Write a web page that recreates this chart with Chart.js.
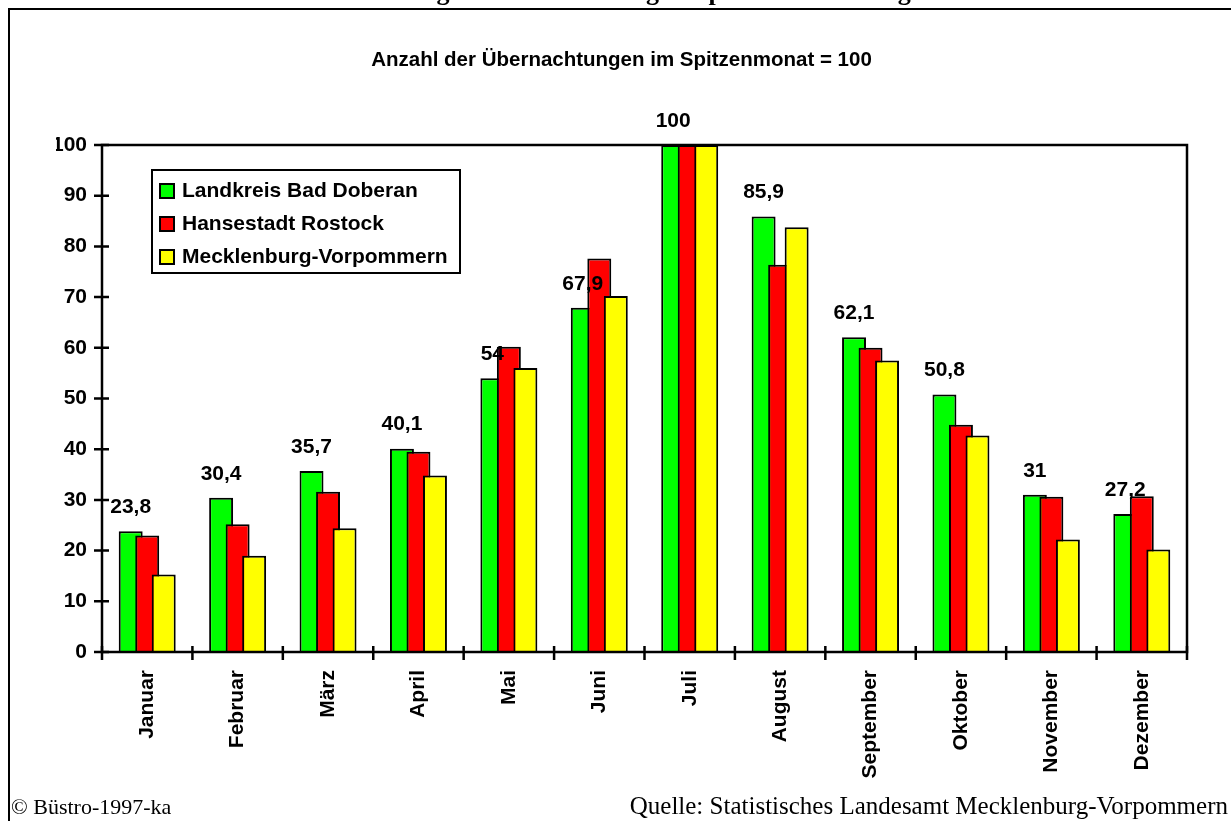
<!DOCTYPE html>
<html>
<head>
<meta charset="utf-8">
<script src="https://cdn.jsdelivr.net/npm/chart.js@4.4.1/dist/chart.umd.min.js"></script>
<style>
    html, body { margin: 0; padding: 0; background: #fff; overflow: hidden; }
    #wrap { position: relative; width: 1231px; height: 821px; overflow: hidden; }
    #chart { position: absolute; left: 0; top: 0; }
    #frame { position: absolute; left: 8px; top: 8px; width: 1400px; height: 1000px;
             border-left: 2px solid #000; border-top: 2px solid #000; pointer-events: none; }
    #head { position: absolute; left: 0; width: 1231px; top: -23px; text-align: center;
            font: bold 26px 'Liberation Serif', 'Times New Roman', serif; white-space: nowrap; }
    .foot { position: absolute; top: 792px; font-family: 'Liberation Serif', 'Times New Roman', serif; white-space: nowrap; }
    #footLeft { left: 11px; font-size: 22px; top: 794px; }
    #footRight { right: 3px; font-size: 25px; }
</style>
</head>
<body>
<div id="wrap">
    <canvas id="chart" width="1231" height="821"></canvas>
    <div id="head">Saisonverlauf der Übernachtungen in Mecklenburg-Vorpommern im Vergleich des Jahres 1996</div>
    <div id="frame"></div>
    <div class="foot" id="footLeft">© Büstro-1997-ka</div>
    <div class="foot" id="footRight">Quelle: Statistisches Landesamt Mecklenburg-Vorpommern</div>
</div>
<script>
// ---- data (Spitzenmonat = 100) ----
const months = ['Januar', 'Februar', 'März', 'April', 'Mai', 'Juni',
                'Juli', 'August', 'September', 'Oktober', 'November', 'Dezember'];
const badDoberan = [23.8, 30.4, 35.7, 40.1, 54, 67.9, 100, 85.9, 62.1, 50.8, 31, 27.2];
const rostock    = [23.0, 25.2, 31.6, 39.5, 60.2, 77.6, 100, 76.4, 60.0, 44.8, 30.6, 30.7];
const mvp        = [15.3, 19.0, 24.4, 34.8, 56.0, 70.2, 100, 83.8, 57.5, 42.7, 22.2, 20.2];
const yTicks     = [0, 10, 20, 30, 40, 50, 60, 70, 80, 90, 100];

const FONT = "'Liberation Sans', Arial, sans-serif";
const FS = 21;

// values of the first series above its bars
function drawGreenLabels(chart) {
    const { ctx } = chart;
    const meta = chart.getDatasetMeta(0);
    const values = chart.data.datasets[0].data;
    ctx.save();
    ctx.fillStyle = '#000';
    ctx.font = 'bold ' + FS + 'px ' + FONT;
    ctx.textAlign = 'center';
    ctx.textBaseline = 'middle';
    meta.data.forEach((bar, i) => {
        ctx.fillText(String(values[i]).replace('.', ','), bar.x, bar.y - 24);
    });
    ctx.restore();
}

// draw series left to right so the later bars overlap the earlier ones
const forwardDraw = {
    id: 'forwardDraw',
    beforeDatasetsDraw(chart) {
        chart.data.datasets.forEach((ds, i) => {
            chart.getDatasetMeta(i).controller.draw();
        });
        return false;
    }
};

// frame around plot area + crossing tick marks, then value labels
const frameTicks = {
    id: 'frameTicks',
    afterDraw(chart) {
        const { ctx, chartArea: a, scales: { x, y } } = chart;
        ctx.save();
        ctx.strokeStyle = '#000';
        ctx.lineWidth = 2.5;
        ctx.strokeRect(a.left, a.top, a.right - a.left, a.bottom - a.top);
        ctx.beginPath();
        y.ticks.forEach(t => {
            const py = y.getPixelForValue(t.value);
            ctx.moveTo(a.left - 8, py);
            ctx.lineTo(a.left + 7, py);
        });
        for (let i = 0; i <= months.length; i++) {
            const px = x.getPixelForValue(i - 0.5);
            ctx.moveTo(px, a.bottom - 6);
            ctx.lineTo(px, a.bottom + 8);
        }
        ctx.stroke();
        ctx.restore();
        drawGreenLabels(chart);
    }
};

// boxed legend inside the plot area
const boxLegend = {
    id: 'boxLegend',
    afterDraw(chart) {
        const { ctx, chartArea: a } = chart;
        const left = a.left + 50, top = a.top + 25, w = 308, h = 103;
        ctx.save();
        ctx.fillStyle = '#fff';
        ctx.fillRect(left, top, w, h);
        ctx.strokeStyle = '#000';
        ctx.lineWidth = 2;
        ctx.strokeRect(left, top, w, h);
        ctx.font = 'bold ' + FS + 'px ' + FONT;
        ctx.textBaseline = 'middle';
        chart.data.datasets.forEach((ds, i) => {
            const cy = top + 21 + i * 33;
            ctx.fillStyle = ds.backgroundColor;
            ctx.fillRect(left + 8, cy - 7, 14, 14);
            ctx.strokeRect(left + 8, cy - 7, 14, 14);
            ctx.fillStyle = '#000';
            ctx.fillText(ds.label, left + 30, cy);
        });
        ctx.restore();
    }
};

const barStyle = { borderColor: '#000', borderWidth: 2, categoryPercentage: 0.548, barPercentage: 1.45 };

new Chart(document.getElementById('chart'), {
    type: 'bar',
    data: {
        labels: months,
        datasets: [
            { label: 'Landkreis Bad Doberan', data: badDoberan, backgroundColor: '#00ff00', ...barStyle },
            { label: 'Hansestadt Rostock', data: rostock, backgroundColor: '#ff0000', ...barStyle },
            { label: 'Mecklenburg-Vorpommern', data: mvp, backgroundColor: '#ffff00', ...barStyle }
        ]
    },
    options: {
        responsive: false,
        animation: false,
        layout: { padding: { left: 56, right: 44, top: 0, bottom: 0 } },
        plugins: {
            legend: { display: false },
            tooltip: { enabled: false },
            title: {
                display: true,
                text: 'Anzahl der Übernachtungen im Spitzenmonat = 100',
                color: '#000',
                font: { family: FONT, size: 20.5, weight: 'bold' },
                padding: { top: 48, bottom: 72.4 }
            }
        },
        scales: {
            x: {
                grid: { display: false },
                border: { display: false },
                ticks: {
                    color: '#000',
                    font: { family: FONT, size: FS, weight: 'bold' },
                    minRotation: 90, maxRotation: 90,
                    padding: 10
                },
                afterFit: (scale) => { scale.height = 169; }
            },
            y: {
                min: 0, max: 100,
                grid: { display: false },
                border: { display: false },
                afterBuildTicks: (scale) => { scale.ticks = yTicks.map(v => ({ value: v })); },
                ticks: {
                    color: '#000',
                    font: { family: FONT, size: FS, weight: 'bold' },
                    padding: 7
                },
                afterFit: (scale) => { scale.width = 46; }
            }
        }
    },
    plugins: [forwardDraw, frameTicks, boxLegend]
});
</script>
</body>
</html>
